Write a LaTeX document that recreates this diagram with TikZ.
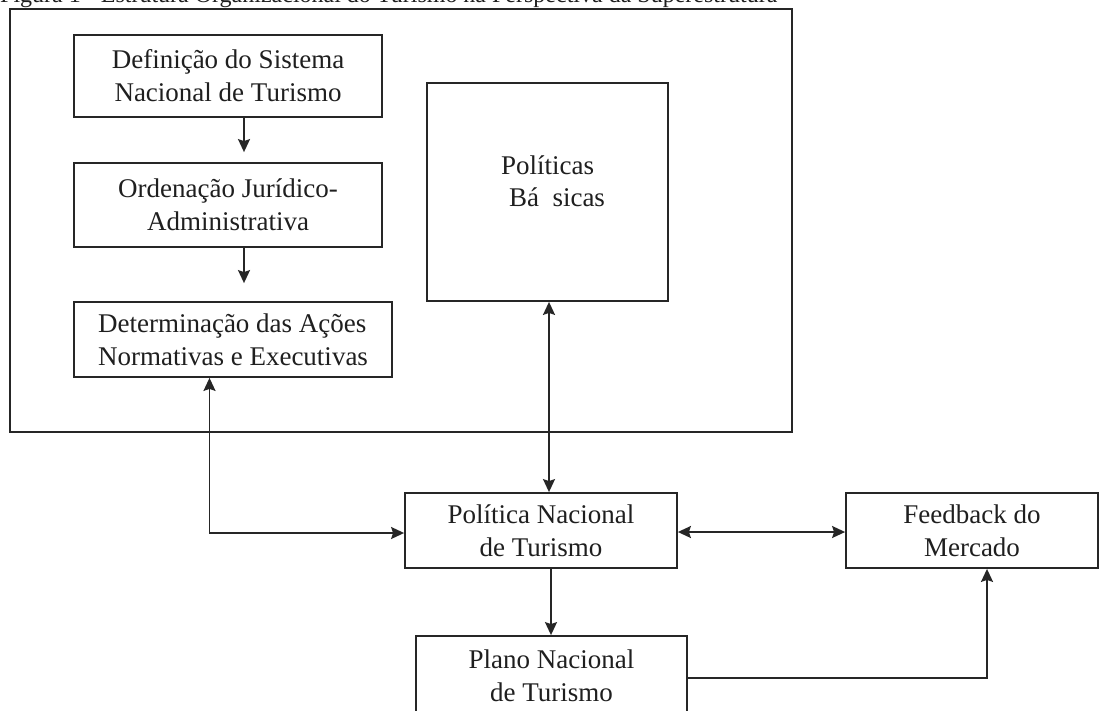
\documentclass[tikz,border=0pt]{standalone}
\usepackage{fontspec}
\setmainfont{Liberation Serif}
\usetikzlibrary{arrows.meta}
\definecolor{ink}{gray}{0.15}
\definecolor{txt}{gray}{0.12}
\begin{document}
\begin{tikzpicture}[x=1pt,y=-1pt,
  >={Stealth[length=13pt,width=12pt,inset=2pt]},
  box/.style={draw=ink, line width=1.8pt, inner sep=0pt, align=center,
    text=txt, font=\fontsize{27}{33}\selectfont},
  conn/.style={draw=ink, line width=1.8pt}
]
\useasboundingbox (0,0) rectangle (1108,710);
\clip (0,0) rectangle (1108,710);
\fill[white] (0,0) rectangle (1108,710);

% caption line, cut by the page edge
\node[anchor=base west, inner sep=0pt, text=txt, font=\fontsize{24}{28}\selectfont]
  (title) at (0,2.5) {Figura 1 - Estrutura Organizacional do Turismo na Perspectiva da Superestrutura};

% frame around the superstructure
\node[draw=ink, line width=1.8pt, inner sep=0pt, minimum width=782pt, minimum height=423pt]
  (frame) at (401,220.5) {};

% boxes
\node[box, minimum width=308pt, minimum height=82pt] (def) at (228,76)
  {Definição do Sistema\\Nacional de Turismo};
\node[box, minimum width=308pt, minimum height=84pt] (ord) at (228,205)
  {Ordenação Jurídico-\\Administrativa};
\node[box, align=left, minimum width=318pt, minimum height=75pt] (det) at (233,339.5)
  {Determinação das Ações\\Normativas e Executivas};
\node[box, minimum width=241pt, minimum height=218pt] (pb) at (547.5,192) {};
\node[align=left, inner sep=0pt, text=txt, font=\fontsize{27}{32}\selectfont]
  (pbtext) at (553,181.5) {Políticas\\\hspace*{8pt}Bá\ \ sicas};
\node[box, minimum width=272pt, minimum height=75pt] (pnt) at (541,530.5)
  {Política Nacional\\de Turismo};
\node[box, minimum width=252pt, minimum height=75pt] (fb) at (972,530.5)
  {Feedback do\\Mercado};
\node[box, minimum width=271pt, minimum height=80pt] (plano) at (551.5,676)
  {Plano Nacional\\de Turismo};

% guide coordinates for the connector lines
\coordinate (a1) at (244,0);
\coordinate (jx) at (209.5,533);
\coordinate (px) at (549,0);
\coordinate (hy) at (0,532);
\coordinate (dx) at (551,0);
\coordinate (ry) at (0,678);
\coordinate (fx) at (987,0);

% connectors
\draw[conn,->,shorten >=10pt] (def.south -| a1) -- (ord.north -| a1);
\draw[conn,->,shorten >=18pt] (ord.south -| a1) -- (det.north -| a1);
\draw[conn,<->] (det.south -| jx) |- (pnt.west |- jx);
\draw[conn,<->] (pb.south -| px) -- (pnt.north -| px);
\draw[conn,<->] (pnt.east |- hy) -- (fb.west |- hy);
\draw[conn,->] (pnt.south -| dx) -- (plano.north -| dx);
\draw[conn,->] (plano.east |- ry) -| (fb.south -| fx);
\end{tikzpicture}
\end{document}
